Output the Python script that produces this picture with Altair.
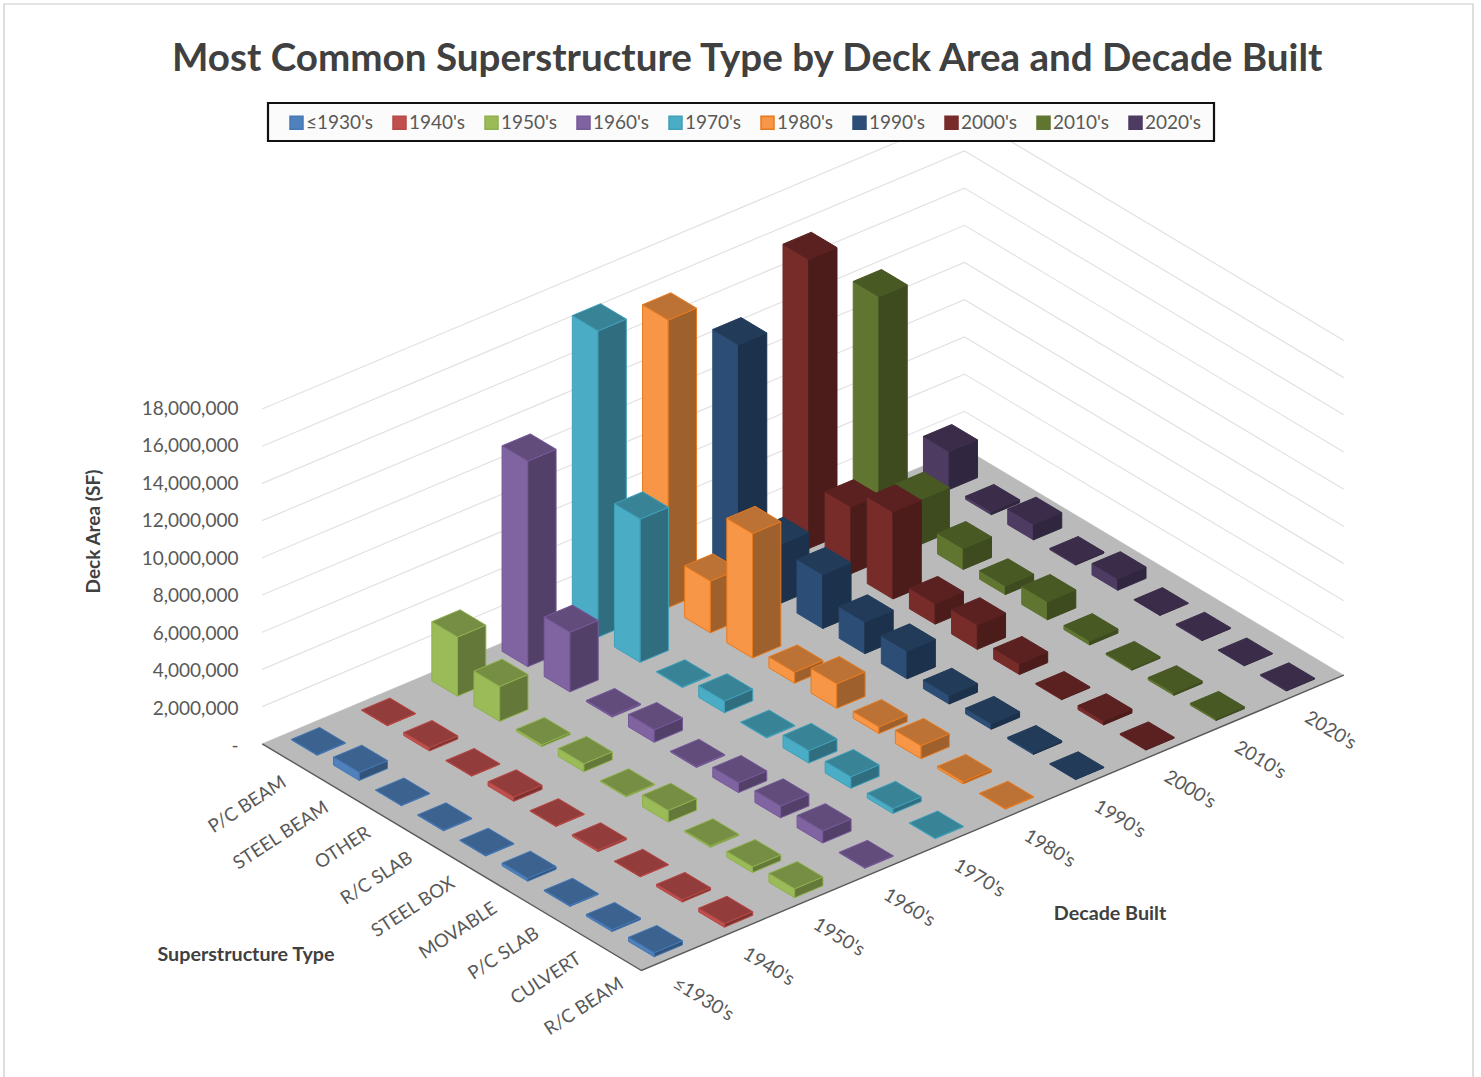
import altair as alt
import pandas as pd

decades = ["≤1930's", "1940's", "1950's", "1960's", "1970's", "1980's", "1990's", "2000's", "2010's", "2020's"]
structures = ["P/C BEAM", "STEEL BEAM", "OTHER", "R/C SLAB", "STEEL BOX", "MOVABLE", "P/C SLAB", "CULVERT", "R/C BEAM"]

# Deck area (SF) per decade, one value per superstructure type
area_1930 = [30000, 430000, 20000, 40000, 30000, 150000, 50000, 100000, 220000]
area_1940 = [20000, 170000, 20000, 230000, 30000, 90000, 20000, 130000, 200000]
area_1950 = [3180000, 1880000, 100000, 430000, 50000, 630000, 70000, 310000, 480000]
area_1960 = [11050000, 3200000, 70000, 670000, 50000, 530000, 630000, 650000, 30000]
area_1970 = [16460000, 7700000, 30000, 630000, 30000, 670000, 620000, 260000, 20000]
area_1980 = [15460000, 2780000, 6690000, 590000, 1320000, 360000, 700000, 120000, 30000]
area_1990 = [12540000, 3160000, 2890000, 1700000, 1490000, 460000, 300000, 90000, 30000]
area_2000 = [15540000, 3590000, 4670000, 1100000, 1310000, 580000, 50000, 210000, 50000]
area_2010 = [11950000, 2410000, 1110000, 460000, 970000, 220000, 80000, 130000, 100000]
area_2020 = [2030000, 160000, 830000, 70000, 610000, 30000, 60000, 30000, 50000]
series = [area_1930, area_1940, area_1950, area_1960, area_1970,
          area_1980, area_1990, area_2000, area_2010, area_2020]

base_colors = ["#4F81BD", "#C0504D", "#9BBB59", "#8064A2", "#4BACC6",
               "#F79646", "#2C4D75", "#772C2A", "#5F7530", "#4D3B62"]
edge_colors = ["#4578B4", "#B84845", "#8FB04E", "#76599A", "#3FA0BA",
               "#E87A1E", "#2C4D75", "#772C2A", "#5F7530", "#4D3B62"]
tick_values = [0, 2e6, 4e6, 6e6, 8e6, 10e6, 12e6, 14e6, 16e6, 18e6]

# Oblique projection of the plot box onto the page
ORIGIN = (262.2, 743.8)
DECADE_STEP = (70.23, -29.53)
TYPE_STEP = (42.14, 25.19)
PX_PER_UNIT = 18.6 / 1e6
BAR_U = 0.403
BAR_V = 0.61


def project(u, v, z=0.0):
    return [
        ORIGIN[0] + u * DECADE_STEP[0] + v * TYPE_STEP[0],
        ORIGIN[1] + u * DECADE_STEP[1] + v * TYPE_STEP[1] - z * PX_PER_UNIT,
    ]


def shade(color, k):
    r, g, b = (int(color[i:i + 2], 16) for i in (1, 3, 5))
    return "#%02x%02x%02x" % (round(r * k), round(g * k), round(b * k))


def polygon(points, **props):
    return {"type": "Feature", "properties": props,
            "geometry": {"type": "Polygon", "coordinates": [points + [points[0]]]}}


def polyline(points, **props):
    return {"type": "Feature", "properties": props,
            "geometry": {"type": "LineString", "coordinates": points}}


# Three visible faces per bar, painted from the far corner towards the viewer
faces = []
for d in range(len(decades) - 1, -1, -1):
    for t in range(len(structures)):
        h = series[d][t]
        u0, u1 = d + 0.5 - BAR_U / 2, d + 0.5 + BAR_U / 2
        v0, v1 = t + 0.5 - BAR_V / 2, t + 0.5 + BAR_V / 2
        name = decades[d]
        faces.append(polygon([project(u0, v0), project(u0, v1), project(u0, v1, h), project(u0, v0, h)], key=name))
        faces.append(polygon([project(u0, v1), project(u1, v1), project(u1, v1, h), project(u0, v1, h)], key=name + " side"))
        faces.append(polygon([project(u0, v0, h), project(u0, v1, h), project(u1, v1, h), project(u1, v0, h)], key=name + " top"))

fill_domain, fill_range, stroke_range = [], [], []
for name, base, edge in zip(decades, base_colors, edge_colors):
    for suffix, k in (("", 1.0), (" top", 0.76), (" side", 0.64)):
        fill_domain.append(name + suffix)
        fill_range.append(shade(base, k))
        stroke_range.append(edge if base != edge else shade(base, k))

n_d, n_t = len(decades), len(structures)
grid_lines = [polyline([project(0, 0, z), project(n_d, 0, z), project(n_d, n_t, z)]) for z in tick_values[1:]]
floor = [polygon([project(0, 0), project(0, n_t), project(n_d, n_t), project(n_d, 0)])]
front_edges = [polyline([project(0, 0), project(0, n_t), project(n_d, n_t)])]
page_frame = [polyline([[4, 1085], [4, 4], [1473, 4], [1473, 1085]])]
legend_box = [polygon([[268, 103], [1214, 103], [1214, 141], [268, 141]])]

FONT = "Lato"
TEXT = "#595959"
DARK = "#404040"
ident = dict(type="identity", scale=1, translate=[0, 0])

frame_layer = alt.Chart(alt.Data(values=page_frame)).mark_geoshape(
    filled=False, stroke="#C9C9C9", strokeWidth=1.2).project(**ident)
grid_layer = alt.Chart(alt.Data(values=grid_lines)).mark_geoshape(
    filled=False, stroke="#E2E2E2", strokeWidth=1.2).project(**ident)
floor_layer = alt.Chart(alt.Data(values=floor)).mark_geoshape(
    fill="#BABABA", stroke="#BABABA", strokeWidth=0.5).project(**ident)
edge_layer = alt.Chart(alt.Data(values=front_edges)).mark_geoshape(
    filled=False, stroke="#5A5A5A", strokeWidth=1.4).project(**ident)
box_layer = alt.Chart(alt.Data(values=legend_box)).mark_geoshape(
    fill="#FBFBFB", stroke="#111111", strokeWidth=2.2).project(**ident)

decade_legend = alt.Legend(
    values=decades, title=None, orient="none", legendX=287, legendY=113,
    direction="horizontal", columns=10, symbolType="square", symbolSize=169,
    symbolOpacity=1, symbolStrokeWidth=1.5, labelFont=FONT, labelFontSize=19,
    labelColor=TEXT, labelOffset=0, columnPadding=16, padding=0, labelLimit=120,
)

bar_layer = alt.Chart(alt.Data(values=faces)).mark_geoshape(strokeWidth=1, strokeJoin="round").encode(
    color=alt.Color(
        "properties.key:N",
        scale=alt.Scale(domain=fill_domain, range=fill_range),
        legend=decade_legend,
    ),
    stroke=alt.Stroke(
        "properties.key:N",
        scale=alt.Scale(domain=fill_domain, range=stroke_range),
        legend=decade_legend,
    ),
).project(**ident)

# Vertical value axis
axis_layer = alt.Chart(pd.DataFrame({"area": tick_values})).mark_point(opacity=0).encode(
    y=alt.Y(
        "area:Q",
        scale=alt.Scale(domain=[0, 18e6], range=[745.5, 408.5]),
        axis=alt.Axis(
            values=tick_values, grid=False, domain=False, ticks=False, offset=-238,
            labelPadding=0, labelFont=FONT, labelFontSize=19, labelColor=TEXT,
            labelExpr="datum.value === 0 ? '-\u00a0\u00a0\u00a0\u00a0' : format(datum.value, ',')",
            title="Deck Area (SF)", titleFont=FONT, titleFontSize=19, titleFontWeight="bold",
            titleColor=DARK, titleX=-135, titleY=531, titleAngle=270, titleAlign="center",
        ),
    )
)

type_df = pd.DataFrame({
    "label": structures,
    "px": [project(0, t + 0.5)[0] + 1 for t in range(n_t)],
    "py": [project(0, t + 0.5)[1] + 24 for t in range(n_t)],
})
type_labels = alt.Chart(type_df).mark_text(
    align="right", baseline="middle", angle=327, font=FONT, fontSize=18.6, color=TEXT
).encode(x=alt.X("px:Q", scale=None), y=alt.Y("py:Q", scale=None), text="label:N")

decade_df = pd.DataFrame({
    "label": decades,
    "px": [project(d + 0.5, n_t)[0] - 2 for d in range(n_d)],
    "py": [project(d + 0.5, n_t)[1] + 26 for d in range(n_d)],
})
decade_labels = alt.Chart(decade_df).mark_text(
    align="left", baseline="middle", angle=31, font=FONT, fontSize=19, color=TEXT
).encode(x=alt.X("px:Q", scale=None), y=alt.Y("py:Q", scale=None), text="label:N")

axis_titles = alt.Chart(pd.DataFrame({
    "label": ["Superstructure Type", "Decade Built"],
    "px": [246, 1110],
    "py": [955, 914],
})).mark_text(
    align="center", baseline="middle", font=FONT, fontSize=19.7, fontWeight="bold", color=DARK
).encode(x=alt.X("px:Q", scale=None), y=alt.Y("py:Q", scale=None), text="label:N")

chart = alt.layer(
    frame_layer, grid_layer, floor_layer, edge_layer, bar_layer, box_layer,
    axis_layer, type_labels, decade_labels, axis_titles,
).resolve_scale(y="independent", x="independent").properties(
    width=1481,
    height=1077,
    padding=0,
    autosize=alt.AutoSizeParams(type="none"),
    background="white",
    title=alt.TitleParams(
        "Most Common Superstructure Type by Deck Area and Decade Built",
        font=FONT, fontSize=38.6, fontWeight="bold", color=DARK,
        anchor="start", dx=172, dy=84, frame="group",
    ),
).configure_view(stroke=None)

chart.save("out.html", embed_options={"renderer": "svg", "actions": False})
